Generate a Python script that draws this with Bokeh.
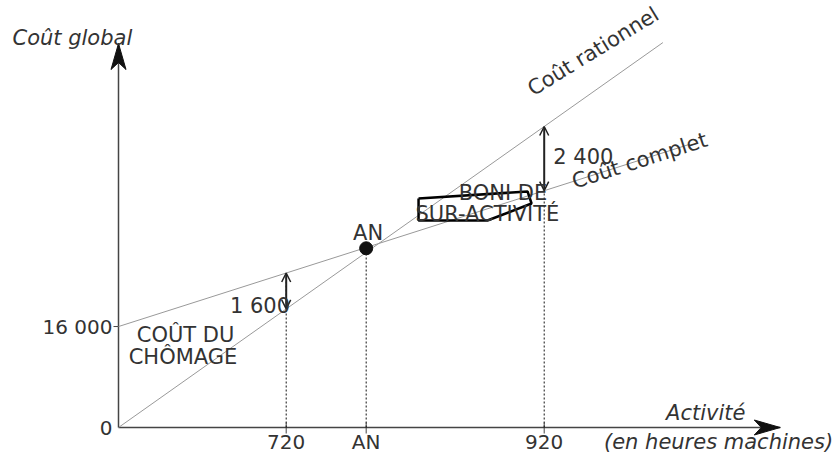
import numpy as np
from bokeh.plotting import figure
from bokeh.models import Arrow, OpenHead, Label, Range1d, ColumnDataSource
from bokeh.core.properties import value
from bokeh.embed import file_html
from bokeh.resources import INLINE

# ---- data ----
activity_ticks = [720, 782, 920]
activity_labels = ["720", "AN", "920"]
cost_ticks = [0, 16000]
cost_labels = ["0", "16 000"]
rationnel_x = [590, 1012]
rationnel_y = [0, 61000]
complet_x = [590, 1033]
complet_y = [16000, 44900]
an_x = [782]
an_y = [28400]
gap_x = [720, 920]
gap_labels = ["1 600", "2 400"]
boni_x = [822.6, 907.1, 910.2, 876.0, 822.6, 822.6]
boni_y = [36300, 37400, 35500, 32800, 32800, 36300]
axis_x_end = 1103
axis_y_end = 60850

# ---- layout / scale ----
W, H = 836, 460
PXX = 1.29            # pixels per activity unit
PXY = 6.31 / 1000     # pixels per cost unit
OX, OY = 118, 427     # pixel position of the origin
X0 = rationnel_x[0]

FONT = "DejaVu Sans"
TXT = "#333333"
AX = "#444444"

p = figure(width=W, height=H, output_backend="svg", toolbar_location=None,
           x_axis_type=None, y_axis_type=None,
           x_range=Range1d(X0 - OX / PXX, X0 + (W - OX) / PXX),
           y_range=Range1d(-(H - OY) / PXY, OY / PXY),
           min_border=0)
p.outline_line_color = None
p.grid.visible = False
p.background_fill_color = "white"
p.border_fill_color = "white"


def dx(px):
    return px / PXX


def dy(px):
    return px / PXY


def head(tip_x, tip_y, direction):
    L, N, Wd = 26, 19, 7.5
    if direction == "right":
        xs = [tip_x, tip_x - dx(L), tip_x - dx(N), tip_x - dx(L)]
        ys = [tip_y, tip_y + dy(Wd), tip_y, tip_y - dy(Wd)]
    else:
        xs = [tip_x, tip_x - dx(Wd), tip_x, tip_x + dx(Wd)]
        ys = [tip_y, tip_y - dy(L), tip_y - dy(N), tip_y - dy(L)]
    p.patch(xs, ys, fill_color="#111111", line_color="#111111", line_width=1)


# axes
p.line([X0, axis_x_end], [0, 0], line_color=AX, line_width=1.5)
p.line([X0, X0], [0, axis_y_end], line_color=AX, line_width=1.5)
head(axis_x_end, 0, "right")
head(X0, axis_y_end, "up")

# tick marks
p.segment(x0=activity_ticks, y0=[dy(-6)] * 3, x1=activity_ticks, y1=[dy(5)] * 3,
          line_color=AX, line_width=1)
p.segment(x0=[X0 - dx(5)], y0=[cost_ticks[1]], x1=[X0], y1=[cost_ticks[1]],
          line_color=AX, line_width=1)

# tick labels
src_x = ColumnDataSource(dict(x=activity_ticks, y=[dy(-14)] * 3, t=activity_labels))
p.text(x="x", y="y", text="t", source=src_x, text_align="center", text_baseline="middle",
       text_font=value(FONT), text_font_size="20px", text_color=TXT)
src_y = ColumnDataSource(dict(x=[X0 - dx(6)] * 2, y=cost_ticks, t=cost_labels))
p.text(x="x", y="y", text="t", source=src_y, text_align="right", text_baseline="middle",
       text_font=value(FONT), text_font_size="20px", text_color=TXT)

# cost lines
p.line(rationnel_x, rationnel_y, line_color="#999999", line_width=1)
p.line(complet_x, complet_y, line_color="#999999", line_width=1)


def r_at(x):
    return float(np.interp(x, rationnel_x, rationnel_y))


def c_at(x):
    return float(np.interp(x, complet_x, complet_y))


# dotted verticals
tops = [c_at(activity_ticks[0]), an_y[0], c_at(activity_ticks[2])]
p.segment(x0=activity_ticks, y0=[0, 0, 0], x1=activity_ticks, y1=tops,
          line_color="#111111", line_width=1, line_dash="2 2")

# gap arrows
for gx in gap_x:
    lo, hi = sorted([r_at(gx), c_at(gx)])
    p.add_layout(Arrow(start=OpenHead(size=9, line_color="#222222", line_width=1.5),
                       end=OpenHead(size=9, line_color="#222222", line_width=1.5),
                       x_start=gx, y_start=lo, x_end=gx, y_end=hi,
                       line_color="#222222", line_width=2))

# AN point
p.scatter(an_x, an_y, size=13, marker="circle", fill_color="#111111", line_color="#111111")

# Boni shape
p.line(boni_x, boni_y, line_color="#000000", line_width=2.5)


def lab(x, y, text, align="center", italic=False, angle=0, size="21px"):
    p.add_layout(Label(x=x, y=y, text=text, text_align=align, text_baseline="middle",
                       text_font=FONT, text_font_size=size, text_color=TXT,
                       text_font_style="italic" if italic else "normal", angle=angle))


lab(507.8, 61650, "Coût global", align="left", italic=True)
lab(1076, 2250, "Activité", align="right", italic=True)
lab(1144, -2220, "(en heures machines)", align="right", italic=True)
lab(an_x[0] + 1.5, 30900, "AN")
lab(gap_x[0] + 3, 19300, gap_labels[0], align="right")
lab(gap_x[1] + 7, 42800, gap_labels[1], align="left")
lab(642, 14600, "COÛT DU")
lab(640, 11100, "CHÔMAGE")
lab(888, 37100, "BONI DE")
lab(876, 33900, "SUR-ACTIVITÉ")
lab(958, 59600, "Coût rationnel", angle=0.55)
lab(994, 42300, "Coût complet", angle=0.31)

open("out.html", "w").write(file_html(p, INLINE))
